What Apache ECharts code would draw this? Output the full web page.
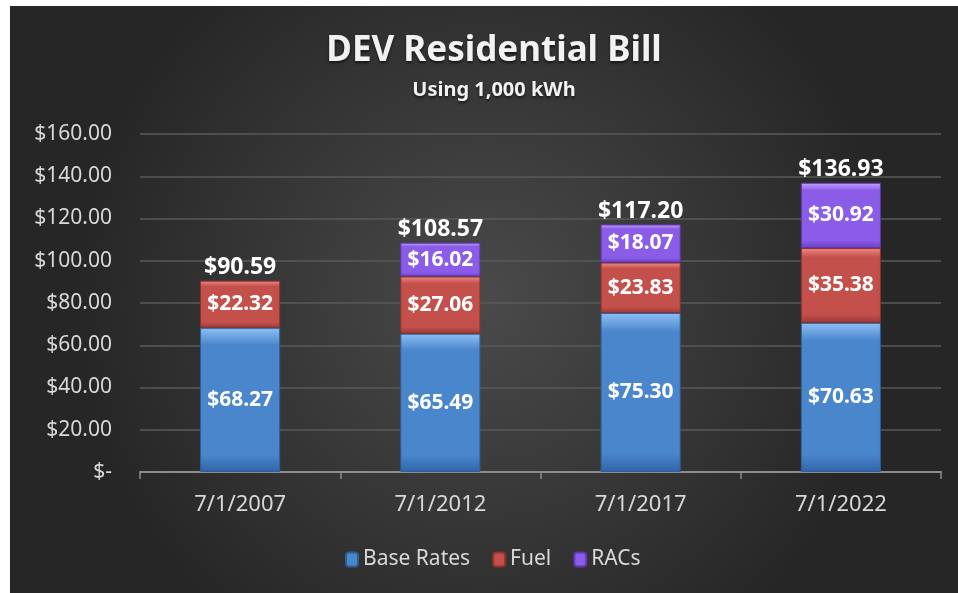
<!DOCTYPE html>
<html>
<head>
<meta charset="utf-8">
<script src="https://cdn.jsdelivr.net/npm/echarts@6/dist/echarts.min.js"></script>
<style>
  html, body { margin: 0; padding: 0; background: #fff; }
  #chart { width: 958px; height: 593px; }
</style>
</head>
<body>
<div id="chart"></div>
<script>
let categories = ['7/1/2007', '7/1/2012', '7/1/2017', '7/1/2022']
let baseRates = [68.27, 65.49, 75.30, 70.63]
let fuel = [22.32, 27.06, 23.83, 35.38]
let racs = [null, 16.02, 18.07, 30.92]
let totals = [90.59, 108.57, 117.20, 136.93]

function money (v) {
  return '$' + Number(v).toFixed(2)
}

function barFill (top, mid, bottom) {
  return new echarts.graphic.LinearGradient(0, 0, 0, 1, [
    { offset: 0, color: top },
    { offset: 0.12, color: mid },
    { offset: 0.88, color: mid },
    { offset: 1, color: bottom }
  ])
}

let myChart = echarts.init(document.getElementById('chart'))
let labelFont = { color: '#fff', fontSize: 21, fontWeight: 'bold', fontFamily: 'Noto Sans' }

myChart.setOption({
  animation: false,
  backgroundColor: '#fff',
  graphic: [
    {
      type: 'rect',
      z: -10,
      shape: { x: 10, y: 6, width: 948, height: 587 },
      style: {
        fill: new echarts.graphic.RadialGradient(0.5, 0.5, 0.7, [
          { offset: 0, color: '#4a4a4a' },
          { offset: 1, color: '#262626' }
        ])
      }
    }
  ],
  title: {
    text: 'DEV Residential Bill',
    subtext: 'Using 1,000 kWh',
    left: 489,
    textAlign: 'center',
    top: 29,
    itemGap: 11,
    textStyle: {
      color: '#f2f2f2',
      fontSize: 35,
      fontWeight: 'bold',
      fontFamily: 'Noto Sans',
      textShadowColor: 'rgba(0,0,0,0.6)',
      textShadowBlur: 3,
      textShadowOffsetY: 2
    },
    subtextStyle: {
      color: '#f2f2f2',
      fontSize: 20,
      fontWeight: 'bold',
      fontFamily: 'Noto Sans',
      textShadowColor: 'rgba(0,0,0,0.6)',
      textShadowBlur: 3,
      textShadowOffsetY: 2
    }
  },
  grid: {
    left: 140,
    right: 17,
    top: 134,
    bottom: 121
  },
  legend: {
    data: ['Base Rates', 'Fuel', 'RACs'],
    left: 340,
    top: 544,
    itemWidth: 12,
    itemHeight: 14,
    itemGap: 22,
    textStyle: { color: '#d9d9d9', fontSize: 21, fontFamily: 'Noto Sans' }
  },
  xAxis: {
    type: 'category',
    data: categories,
    axisLine: { lineStyle: { color: '#8c8c8c', width: 2 } },
    axisTick: { show: true, length: 7, lineStyle: { color: '#8c8c8c', width: 1.5 } },
    axisLabel: { color: '#d9d9d9', fontSize: 22, fontFamily: 'Noto Sans', margin: 22 }
  },
  yAxis: {
    type: 'value',
    min: 0,
    max: 160,
    interval: 20,
    axisLine: { show: false },
    axisTick: { show: false },
    splitLine: { lineStyle: { color: '#5a5a5a', width: 1.5 } },
    axisLabel: {
      color: '#d9d9d9',
      fontSize: 21,
      fontFamily: 'Noto Sans',
      margin: 28,
      formatter: function (v) { return v === 0 ? '$-' : money(v) }
    }
  },
  series: [
    {
      name: 'Base Rates',
      type: 'bar',
      stack: 'bill',
      barWidth: '40%',
      data: baseRates,
      itemStyle: {
        color: barFill('#8fc0f5', '#4a86cc', '#2f65a8'),
        borderColor: '#2e5f9a',
        borderWidth: 1
      },
      label: Object.assign({ show: true, position: 'inside', formatter: p => money(p.value) }, labelFont)
    },
    {
      name: 'Fuel',
      type: 'bar',
      stack: 'bill',
      data: fuel,
      itemStyle: {
        color: barFill('#f28a85', '#c4504c', '#9e3a37'),
        borderColor: '#8e3330',
        borderWidth: 1
      },
      label: Object.assign({ show: true, position: 'inside', formatter: p => money(p.value) }, labelFont)
    },
    {
      name: 'RACs',
      type: 'bar',
      stack: 'bill',
      data: racs,
      itemStyle: {
        color: barFill('#c9a2fa', '#8a5ce8', '#6b3fc8'),
        borderColor: '#5e38b0',
        borderWidth: 1
      },
      label: Object.assign({ show: true, position: 'inside', formatter: p => money(p.value) }, labelFont)
    },
    {
      name: 'Total',
      type: 'scatter',
      data: totals,
      symbolSize: 1,
      silent: true,
      itemStyle: { opacity: 1, color: 'rgba(0,0,0,0)' },
      label: {
        show: true,
        position: 'top',
        distance: 1,
        color: '#ffffff',
        fontSize: 23,
        fontWeight: 'bold',
        fontFamily: 'Noto Sans',
        formatter: p => money(p.value)
      }
    }
  ]
})
</script>
</body>
</html>
